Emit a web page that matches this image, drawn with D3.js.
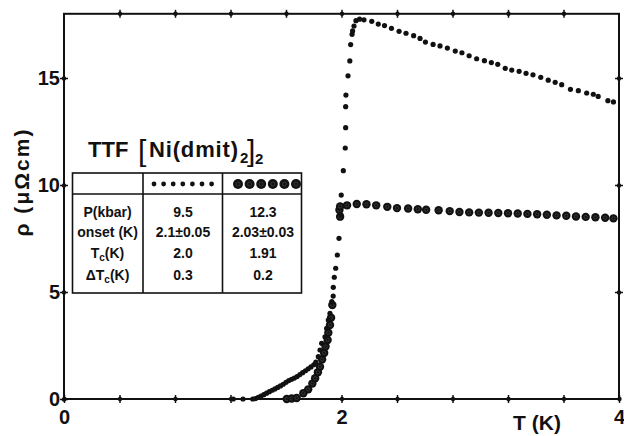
<!DOCTYPE html>
<html>
<head>
<meta charset="utf-8">
<script src="https://cdn.jsdelivr.net/npm/d3@7"></script>
<style>
body { margin: 0; background: #fff; }
text { font-family: "Liberation Sans", Arial, sans-serif; font-weight: bold; fill: #111; }
</style>
</head>
<body>
<svg id="chart" width="624" height="436"></svg>
<script>
// 9.5 kbar run (small dots)
const T_A = [1.22, 1.29, 1.36, 1.38, 1.40, 1.42, 1.44, 1.46, 1.48, 1.50, 1.52, 1.54, 1.56, 1.58, 1.60,
  1.62, 1.64, 1.66, 1.68, 1.70, 1.72, 1.74, 1.76, 1.78, 1.80, 1.815, 1.833, 1.845, 1.857, 1.881,
  1.893, 1.905, 1.917, 1.93, 1.94, 1.941, 1.948, 1.958, 1.97, 1.982, 1.996, 1.998, 2.013, 2.027,
  2.03, 2.03, 2.032, 2.047, 2.06, 2.066, 2.076, 2.08, 2.09, 2.104, 2.13, 2.162, 2.218, 2.265, 2.31,
  2.36, 2.415, 2.465, 2.52, 2.566, 2.605, 2.66, 2.71, 2.763, 2.82, 2.868, 2.92, 2.974, 3.03, 3.08,
  3.126, 3.18, 3.227, 3.28, 3.33, 3.38, 3.436, 3.49, 3.54, 3.587, 3.65, 3.707, 3.767, 3.815, 3.85,
  3.92, 3.96];
const RHO_A = [0, 0, 0, 0.02, 0.08, 0.14, 0.2, 0.27, 0.34, 0.41, 0.47, 0.54, 0.61, 0.69, 0.78,
  0.86, 0.92, 0.98, 1.05, 1.14, 1.23, 1.32, 1.41, 1.5, 1.6, 1.72, 1.98, 2.29, 2.6, 2.91,
  3.3, 3.69, 4.0, 4.55, 4.81, 5.22, 5.69, 6.11, 6.73, 7.51, 8.6, 9.53, 10.67, 11.73,
  12.68, 13.66, 14.2, 15.1, 15.8, 16.56, 17.04, 17.2, 17.43, 17.68, 17.75, 17.72, 17.65, 17.52, 17.45,
  17.32, 17.18, 17.09, 16.98, 16.85, 16.68, 16.57, 16.5, 16.4, 16.26, 16.18, 16.04, 15.9, 15.81, 15.72,
  15.64, 15.45, 15.37, 15.31, 15.22, 15.15, 15.03, 14.9, 14.8, 14.69, 14.47, 14.41, 14.3, 14.24, 14.14,
  13.94, 13.88];

// 12.3 kbar run (large circles)
const T_B = [1.605, 1.641, 1.677, 1.725, 1.76, 1.79, 1.81, 1.83, 1.845, 1.86, 1.875, 1.885, 1.9,
  1.905, 1.917, 1.925, 1.934, 1.99, 1.985, 1.99, 2.04, 2.11, 2.18, 2.25, 2.33, 2.40, 2.48, 2.55,
  2.61, 2.70, 2.78, 2.85, 2.92, 2.99, 3.06, 3.13, 3.20, 3.27, 3.34, 3.41, 3.48, 3.55, 3.62, 3.69,
  3.76, 3.83, 3.90, 3.96];
const RHO_B = [0, 0.02, 0.05, 0.27, 0.45, 0.72, 0.97, 1.25, 1.51, 1.85, 2.15, 2.45, 2.76,
  3.1, 3.46, 3.8, 4.39, 8.52, 8.83, 9.0, 9.05, 9.11, 9.1, 9.05, 8.98, 8.92, 8.9, 8.87,
  8.84, 8.82, 8.78, 8.74, 8.72, 8.71, 8.7, 8.69, 8.68, 8.67, 8.65, 8.63, 8.61, 8.58, 8.56, 8.53,
  8.51, 8.49, 8.47, 8.44];

const X_TICKS = [0, 0.4, 0.8, 1.2, 1.6, 2, 2.4, 2.8, 3.2, 3.6, 4];
const X_LABELED = [0, 2, 4];
const Y_TICKS = [0, 5, 10, 15];

const ROW_LABELS = ["P(kbar)", "onset (K)", "T\u0063(K)", "\u0394T\u0063(K)"];
const COL_A = ["9.5", "2.1\u00b10.05", "2.0", "0.3"];
const COL_B = ["12.3", "2.03\u00b10.03", "1.91", "0.2"];

var svg = d3.select("#chart");

var x = d3.scaleLinear().domain([0, 4]).range([64, 619]);
var y = d3.scaleLinear().domain([0, 18]).range([399, 13.8]);

// frame
svg.append("rect")
  .attr("x", x(0)).attr("y", y(18))
  .attr("width", x(4) - x(0)).attr("height", y(0) - y(18))
  .attr("fill", "none").attr("stroke", "#111").attr("stroke-width", 2);

function styleTicks(g, vertical) {
  g.select(".domain").remove();
  if (vertical) g.selectAll(".tick line").attr("x1", -4).attr("x2", 4);
  else g.selectAll(".tick line").attr("y1", -4).attr("y2", 4);
  g.selectAll(".tick line").attr("stroke", "#111").attr("stroke-width", 1.5);
  g.selectAll(".tick").append("circle").attr("r", 2.2).attr("fill", "#111");
}

// bottom axis
var xb = svg.append("g").attr("transform", "translate(0," + y(0) + ")")
  .call(d3.axisBottom(x).tickValues(X_TICKS).tickSize(4)
    .tickFormat(function(d) { return X_LABELED.indexOf(d) >= 0 ? d : ""; }));
styleTicks(xb, false);
xb.selectAll(".tick text").attr("y", 25).attr("dy", 0)
  .style("font-size", "20px").style("font-family", null);

// top axis
var xt = svg.append("g").attr("transform", "translate(0," + y(18) + ")")
  .call(d3.axisTop(x).tickValues(X_TICKS.slice(1, -1)).tickFormat(""));
styleTicks(xt, false);

// left axis
var yl = svg.append("g").attr("transform", "translate(" + x(0) + ",0)")
  .call(d3.axisLeft(y).tickValues(Y_TICKS).tickSize(4).tickPadding(0));
styleTicks(yl, true);
yl.selectAll(".tick text").attr("dy", "0.3em")
  .style("font-size", "20px").style("font-family", null);

// right axis
var yr = svg.append("g").attr("transform", "translate(" + x(4) + ",0)")
  .call(d3.axisRight(y).tickValues(Y_TICKS.slice(1)).tickFormat(""));
styleTicks(yr, true);

// axis titles
svg.append("text")
  .attr("transform", "translate(22,183) rotate(-90)")
  .attr("text-anchor", "middle").attr("dy", "0.35em")
  .attr("textLength", 107).attr("lengthAdjust", "spacing")
  .style("font-size", "21px")
  .text("\u03c1 (\u03bc\u03a9cm)");

svg.append("text")
  .attr("x", 537).attr("y", 430)
  .attr("text-anchor", "middle")
  .style("font-size", "21px")
  .text("T (K)");

// data
var dataA = T_A.map(function(t, i) { return {t: t, r: RHO_A[i]}; });
var dataB = T_B.map(function(t, i) { return {t: t, r: RHO_B[i]}; });

function bigDot(sel, r) {
  sel.append("circle").attr("r", r).attr("fill", "#111");
  sel.append("circle").attr("r", r * 0.4).attr("fill", "none")
    .attr("stroke", "#444").attr("stroke-width", 0.7);
}

var gB = svg.append("g").selectAll("g")
  .data(dataB).enter().append("g")
  .attr("transform", function(d) { return "translate(" + x(d.t) + "," + y(d.r) + ")"; });
bigDot(gB, 4.2);

svg.append("g").selectAll("circle")
  .data(dataA).enter().append("circle")
  .attr("cx", function(d) { return x(d.t); })
  .attr("cy", function(d) { return y(d.r); })
  .attr("r", 2.6)
  .attr("fill", "#111");

// inset title
var title = svg.append("text").attr("y", 157).style("font-size", "22px");
title.append("tspan").attr("x", 88).text("TTF");
title.append("tspan").attr("x", 138).attr("y", 161).style("font-size", "30px").style("font-weight", "normal").text("[");
title.append("tspan").attr("x", 149).attr("y", 157).attr("textLength", 89).text("Ni(dmit)");
title.append("tspan").attr("x", 240).attr("y", 163).style("font-size", "15px").text("2");
title.append("tspan").attr("x", 247).attr("y", 161).style("font-size", "30px").style("font-weight", "normal").text("]");
title.append("tspan").attr("x", 255).attr("y", 164).style("font-size", "15px").text("2");

// inset table
var tb = {left: 72.5, top: 173, right: 301.5, bottom: 293, head: 194, c1: 143, c2: 222.5};
var table = svg.append("g").attr("stroke", "#111").attr("stroke-width", 1.6).attr("fill", "none");
table.append("rect").attr("x", tb.left).attr("y", tb.top)
  .attr("width", tb.right - tb.left).attr("height", tb.bottom - tb.top);
table.append("line").attr("x1", tb.left).attr("x2", tb.right).attr("y1", tb.head).attr("y2", tb.head);
table.append("line").attr("x1", tb.c1).attr("x2", tb.c1).attr("y1", tb.top).attr("y2", tb.bottom);
table.append("line").attr("x1", tb.c2).attr("x2", tb.c2).attr("y1", tb.top).attr("y2", tb.bottom);

// header symbols
svg.append("g").selectAll("circle")
  .data(d3.range(7)).enter().append("circle")
  .attr("cx", function(i) { return 154 + i * 9.6; })
  .attr("cy", 184).attr("r", 2.4).attr("fill", "#111");
var hb = svg.append("g").selectAll("g")
  .data(d3.range(6)).enter().append("g")
  .attr("transform", function(i) { return "translate(" + (238 + i * 11.6) + ",184)"; });
bigDot(hb, 5);

var rowY = [217, 237, 258, 279.5];
function cellText(xc, vals) {
  svg.append("g").selectAll("text")
    .data(vals).enter().append("text")
    .attr("x", xc)
    .attr("y", function(d, i) { return rowY[i]; })
    .attr("text-anchor", "middle")
    .style("font-size", "14px")
    .text(function(d) { return d; });
}

// row labels, with subscript c
var lab = svg.append("g").selectAll("text")
  .data(ROW_LABELS).enter().append("text")
  .attr("x", 107.5)
  .attr("y", function(d, i) { return rowY[i]; })
  .attr("text-anchor", "middle")
  .style("font-size", "14px");
lab.each(function(d) {
  var t = d3.select(this);
  var k = d.indexOf("T\u0063");
  if (k < 0) { t.text(d); return; }
  t.append("tspan").text(d.slice(0, k + 1));
  t.append("tspan").attr("dy", 3).style("font-size", "10px").text("c");
  t.append("tspan").attr("dy", -3).text(d.slice(k + 2));
});

cellText(183, COL_A);
cellText(263, COL_B);
</script>
</body>
</html>
